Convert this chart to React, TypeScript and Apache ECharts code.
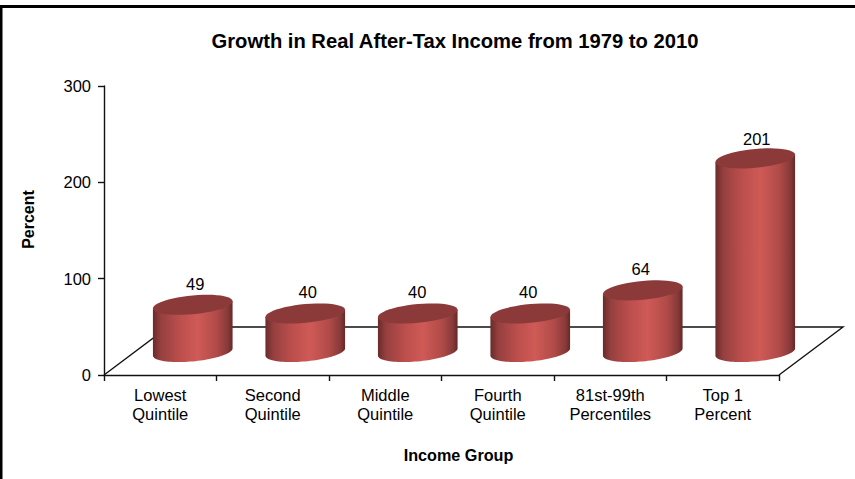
import React, { useEffect, useRef } from "react";
import * as echarts from "echarts";

const categories = [
  "Lowest\nQuintile",
  "Second\nQuintile",
  "Middle\nQuintile",
  "Fourth\nQuintile",
  "81st-99th\nPercentiles",
  "Top 1\nPercent",
];
const growthPercent = [49, 40, 40, 40, 64, 201];
const yTicks = { min: 0, max: 300, interval: 100 };

const FONT = "Liberation Sans, Arial, sans-serif";
const DEPTH_X = 64;
const DEPTH_Y = -48;
// Small per-column shift of the value labels.
const labelShiftX = [3.5, 3.5, 0.5, -1, -1, 2.5];
const labelShiftY = [0, 0, 0, 0, 0, 2];

// Outline points of a sheared ellipse used for the cylinder caps.
function capPoints(cx: number, cy: number, rx: number, tilt: number, ry: number, end: number) {
  const pts: string[] = [];
  const n = 48;
  for (let i = 0; i <= n; i++) {
    const t = (end * i) / n;
    pts.push(`${cx + rx * Math.cos(t)} ${cy - tilt * Math.cos(t) + ry * Math.sin(t)}`);
  }
  return pts;
}

function renderFloor(_: any, api: any) {
  const origin = api.coord([0, 0]);
  const band = api.size([1, 0])[0];
  const left = origin[0] - band / 2;
  const right = left + band * categories.length;
  const y = origin[1];
  return {
    type: "polyline",
    silent: true,
    shape: {
      points: [
        [left, y],
        [left + DEPTH_X, y + DEPTH_Y],
        [right + DEPTH_X, y + DEPTH_Y],
        [right, y],
      ],
    },
    style: { fill: "none", stroke: "#111", lineWidth: 1.4 },
  };
}

function renderCylinder(_: any, api: any) {
  const idx = api.value(0);
  const val = api.value(1);
  const base = api.coord([idx, 0]);
  const top = api.coord([idx, val]);
  const band = api.size([1, 0])[0];
  const rx = band * 0.354;
  const ry = 9.4;
  const tilt = 3.6;
  const capHalf = Math.hypot(ry, tilt);
  const cx = base[0] + DEPTH_X / 2 + 0.5;
  const by = base[1] + DEPTH_Y / 2 + 1;
  const ty = top[1] + DEPTH_Y / 2 + 1;

  const lower = capPoints(cx, by, rx, tilt, ry, Math.PI);
  const body = `M${cx + rx} ${ty - tilt} L${lower.join(" L")} L${cx - rx} ${ty + tilt} Z`;
  const cap = `M${capPoints(cx, ty, rx, tilt, ry, Math.PI * 2).join(" L")} Z`;

  return {
    type: "group",
    children: [
      {
        type: "path",
        shape: { pathData: body, layout: "cover", x: cx - rx, y: ty - tilt, width: rx * 2, height: by + capHalf - (ty - tilt) },
        style: {
          fill: new echarts.graphic.LinearGradient(0, 0, 1, 0, [
            { offset: 0, color: "#6a2a2a" },
            { offset: 0.1, color: "#95403f" },
            { offset: 0.33, color: "#bb4e4c" },
            { offset: 0.56, color: "#cf5a56" },
            { offset: 0.8, color: "#b04b49" },
            { offset: 0.94, color: "#873a39" },
            { offset: 1, color: "#652827" },
          ]),
        },
      },
      {
        type: "path",
        shape: { pathData: cap, layout: "cover", x: cx - rx, y: ty - capHalf, width: rx * 2, height: 2 * capHalf },
        style: { fill: "#8c3a39" },
      },
      {
        type: "text",
        x: cx - 1 + labelShiftX[idx],
        y: ty - capHalf - 11 + labelShiftY[idx],
        style: {
          text: String(val),
          fill: "#000",
          font: `16.5px ${FONT}`,
          align: "center",
          verticalAlign: "middle",
        },
      },
    ],
  };
}

export default function App() {
  const ref = useRef<HTMLDivElement>(null);
  useEffect(() => {
    const chart = echarts.init(ref.current!, undefined, { renderer: "svg", width: 855, height: 479 });
    chart.setOption({
      animation: false,
      backgroundColor: "#fff",
      title: {
        text: "Growth in Real After-Tax Income from 1979 to 2010",
        left: 450,
        top: 26,
        textAlign: "center",
        textStyle: { fontFamily: FONT, fontSize: 20.2, fontWeight: "bold", color: "#000" },
      },
      grid: { left: 104, right: 76, top: 86, bottom: 104 },
      xAxis: {
        type: "category",
        data: categories,
        name: "Income Group",
        nameLocation: "middle",
        nameGap: 72,
        nameTextStyle: { fontFamily: FONT, fontSize: 16.2, fontWeight: "bold", color: "#000", padding: [0, 0, 0, 34] },
        axisLine: { lineStyle: { color: "#111", width: 1.4 } },
        axisTick: { show: true, length: 6, lineStyle: { color: "#111", width: 1.4 } },
        axisLabel: { fontFamily: FONT, fontSize: 16.5, color: "#000", margin: 10, lineHeight: 19, interval: 0 },
      },
      yAxis: {
        type: "value",
        ...yTicks,
        name: "Percent",
        nameLocation: "middle",
        nameGap: 68,
        nameTextStyle: { fontFamily: FONT, fontSize: 16, fontWeight: "bold", color: "#000", padding: [0, 0, 0, 22] },
        splitLine: { show: false },
        axisLine: { show: true, lineStyle: { color: "#111", width: 1.4 } },
        axisTick: { show: true, length: 6, lineStyle: { color: "#111", width: 1.4 } },
        axisLabel: { fontFamily: FONT, fontSize: 16.5, color: "#000", margin: 13 },
      },
      graphic: [
        { type: "rect", shape: { x: 0, y: 5, width: 855, height: 3 }, style: { fill: "#000" }, silent: true },
        { type: "rect", shape: { x: 0, y: 5, width: 2.5, height: 474 }, style: { fill: "#000" }, silent: true },
      ],
      series: [
        { type: "custom", coordinateSystem: "cartesian2d", renderItem: renderFloor, data: [[0, 0]], z: 1, silent: true },
        {
          type: "custom",
          coordinateSystem: "cartesian2d",
          renderItem: renderCylinder,
          encode: { x: 0, y: 1 },
          data: growthPercent.map((v, i) => [i, v]),
          z: 2,
        },
      ],
    });
    return () => chart.dispose();
  }, []);
  return <div ref={ref} style={{ position: "absolute", left: 0, top: 0, width: 855, height: 479 }} />;
}
